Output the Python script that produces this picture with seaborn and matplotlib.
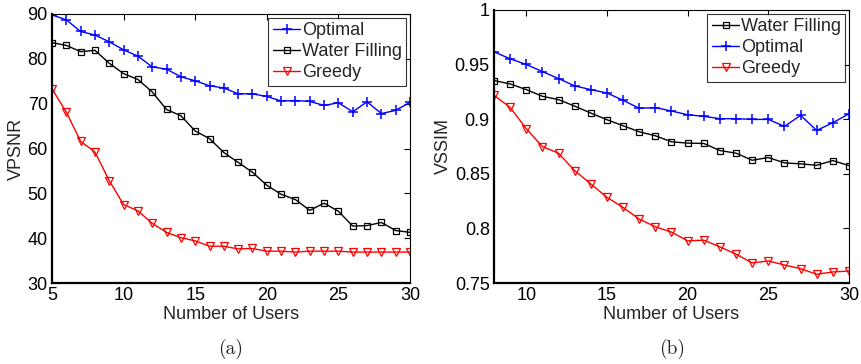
import numpy as np
import pandas as pd
import matplotlib
matplotlib.use("Agg")
import matplotlib.pyplot as plt
import seaborn as sns

# ---- data ----
users_a = list(range(5, 31))
vpsnr_optimal = [89.8, 88.7, 86.1, 85.3, 83.8, 82.0, 80.6, 78.2, 77.7, 76.0, 75.1, 74.0, 73.5,
                 72.2, 72.2, 71.6, 70.6, 70.7, 70.5, 69.6, 70.2, 68.2, 70.4, 67.8, 68.5, 70.3]
vpsnr_water = [83.6, 83.0, 81.6, 81.9, 79.0, 76.7, 75.4, 72.6, 68.7, 67.3, 63.9, 62.2, 59.1,
               56.9, 54.7, 51.8, 49.8, 48.6, 46.2, 47.8, 46.0, 42.7, 42.8, 43.5, 41.7, 41.3]
vpsnr_greedy = [73.3, 68.1, 61.6, 59.2, 52.8, 47.5, 46.1, 43.3, 41.3, 40.1, 39.4, 38.2, 38.2,
                37.6, 37.7, 37.1, 37.1, 36.9, 37.1, 37.1, 37.1, 36.9, 36.9, 36.9, 36.9, 36.9]

users_b = list(range(8, 31))
vssim_water = [0.9354, 0.9323, 0.9271, 0.9210, 0.9179, 0.9120, 0.9056, 0.8995, 0.8940, 0.8885,
               0.8848, 0.8793, 0.8781, 0.8778, 0.8713, 0.8689, 0.8624, 0.8649, 0.8600, 0.8591,
               0.8578, 0.8621, 0.8575]
vssim_optimal = [0.9617, 0.9553, 0.9501, 0.9436, 0.9372, 0.9305, 0.9271, 0.9240, 0.9173, 0.9100,
                 0.9106, 0.9075, 0.9041, 0.9026, 0.9005, 0.9005, 0.8998, 0.8998, 0.8934, 0.9035,
                 0.8897, 0.8968, 0.9050]
vssim_greedy = [0.9219, 0.9108, 0.8913, 0.8750, 0.8688, 0.8529, 0.8407, 0.8284, 0.8192, 0.8085,
                0.8015, 0.7966, 0.7886, 0.7892, 0.7831, 0.7764, 0.7684, 0.7702, 0.7665, 0.7631,
                0.7580, 0.7601, 0.7610]

sns.set_style("white")
plt.rcParams['font.family'] = ['Liberation Sans', 'DejaVu Sans']
FS = 13

fig = plt.figure(figsize=(8.61, 3.64), dpi=100)
W, H = 861, 364
ax1 = fig.add_axes([52 / W, 1 - 283 / H, (410 - 52) / W, (283 - 14) / H])
ax2 = fig.add_axes([494 / W, 1 - 283 / H, (849 - 494) / W, (283 - 10) / H])

styles = {
    'Optimal': dict(color='#0000ff', marker='+', markersize=6.5, markeredgewidth=1.1),
    'Water Filling': dict(color='black', marker='s', markersize=5, markerfacecolor='none',
                          markeredgewidth=0.9),
    'Greedy': dict(color='#ff0000', marker='v', markersize=6, markerfacecolor='none',
                   markeredgewidth=0.9),
}

def draw(ax, x, series):
    for name, y in series:
        df = pd.DataFrame({'x': x, 'y': y})
        st = styles[name]
        sns.lineplot(data=df, x='x', y='y', ax=ax, label=name, linewidth=1.0,
                     color=st['color'], marker=st['marker'], markersize=st['markersize'],
                     markerfacecolor=st.get('markerfacecolor', st['color']),
                     markeredgecolor=st['color'], markeredgewidth=st['markeredgewidth'])

draw(ax1, users_a, [('Optimal', vpsnr_optimal), ('Water Filling', vpsnr_water),
                    ('Greedy', vpsnr_greedy)])
draw(ax2, users_b, [('Water Filling', vssim_water), ('Optimal', vssim_optimal),
                    ('Greedy', vssim_greedy)])

ax1.set_xlim(5, 30)
ax1.set_ylim(30, 90)
ax1.set_xticks([5, 10, 15, 20, 25, 30])
ax1.set_yticks([30, 40, 50, 60, 70, 80, 90])
ax1.set_ylabel('VPSNR', fontsize=FS, labelpad=2)

ax2.set_xlim(8, 30)
ax2.set_ylim(0.75, 1.0)
ax2.set_xticks([10, 15, 20, 25, 30])
ax2.set_yticks([0.75, 0.8, 0.85, 0.9, 0.95, 1.0])
ax2.set_yticklabels(['0.75', '0.8', '0.85', '0.9', '0.95', '1'])
ax2.set_ylabel('VSSIM', fontsize=FS, labelpad=2)

for ax in (ax1, ax2):
    ax.set_xlabel('Number of Users', fontsize=FS, labelpad=1)
    ax.tick_params(direction='in', top=True, right=True, length=4, width=0.8,
                   labelsize=FS, pad=3, colors='black')
    for s in ['left', 'bottom']:
        ax.spines[s].set_linewidth(1.6)
    for s in ['top', 'right']:
        ax.spines[s].set_linewidth(0.8)
    for s in ax.spines.values():
        s.set_color('black')
    leg = ax.legend(loc='upper right', fontsize=FS, frameon=True, fancybox=False,
                    borderpad=0.25, labelspacing=0.22, handlelength=1.5,
                    handletextpad=0.1, borderaxespad=0.2)
    leg.get_frame().set_edgecolor('black')
    leg.get_frame().set_linewidth(0.8)

fig.text(231 / W, 1 - 349 / H, '(a)', ha='center', va='center', fontsize=14,
         family=['cmr10', 'DejaVu Serif'])
fig.text(672 / W, 1 - 349 / H, '(b)', ha='center', va='center', fontsize=14,
         family=['cmr10', 'DejaVu Serif'])

fig.savefig('out.png', dpi=100)
